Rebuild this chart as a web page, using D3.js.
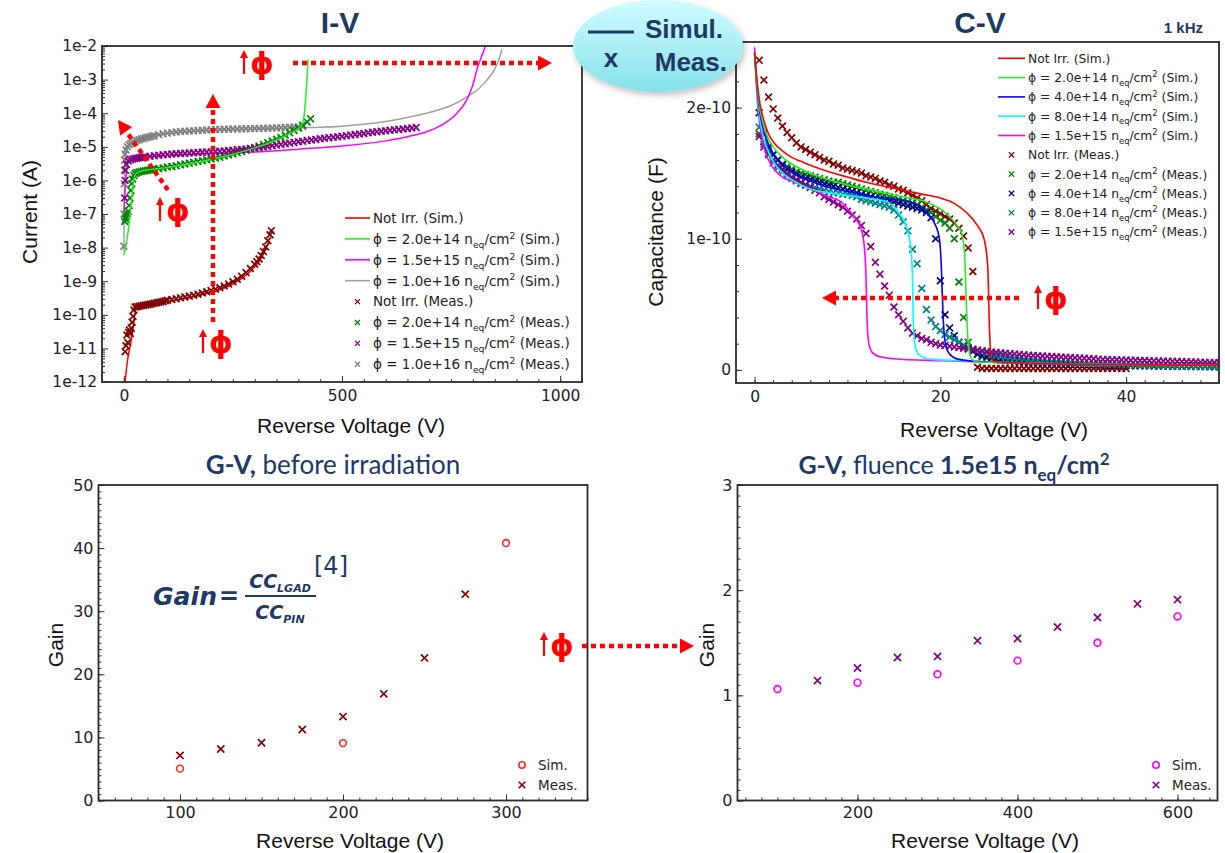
<!DOCTYPE html>
<html lang='en'>
  <head>
    <meta charset='utf-8'>
    <style type='text/css'>
      body {margin: 0; background-color: #fff;}
      svg text {font-family: 'DejaVu Sans', sans-serif;}
      .tick text {font-family: 'DejaVu Sans', sans-serif; font-size: 15.5px; fill: #222;}
      .tick line {stroke: #333; stroke-width: 1;}
      .frame {fill: none; stroke: #2b2b2b; stroke-width: 1.8;}
      .axlabel {font-family: 'Liberation Sans', Arial, sans-serif; font-size: 21px; fill: #111;}
      .title {font-family: 'Liberation Sans', Arial, sans-serif; font-weight: bold; fill: #1f3864;}
      .gtitle {font-family: Lato, 'Open Sans', sans-serif; fill: #1f3864;}
    </style>
  </head>
  <body>
    <svg id='fig' width='1225' height='853'></svg>

    <script src='https://d3js.org/d3.v7.min.js'></script>
    <script type='text/javascript'>
        /************************************
        *               DATA                *
        ************************************/

        // I-V : [reverse voltage (V), current (A)]
        var ivFluence = ['Not Irr.', '2.0e+14', '1.5e+15', '1.0e+16'];
        var ivSimColors = ['#ff0000', '#2ee82e', '#ff00ff', '#a0a0a0'];
        var ivMeasColors = ['#800000', '#008000', '#800080', '#808080'];
        var ivYTicks = [1e-12, 1e-11, 1e-10, 1e-9, 1e-8, 1e-7, 1e-6, 1e-5, 1e-4, 1e-3, 1e-2];
        var ivXTicks = [0, 500, 1000];

        var ivSimNotIrr = [[3,1e-12],[8,4e-12],[12,8e-12],[16,1.5e-11],[20,3e-11],[24,8e-11],[27,1.4e-10],[30,1.6e-10],
          [50,1.75e-10],[100,2.4e-10],[150,3.2e-10],[200,4.6e-10],[250,8.2e-10],[280,1.5e-9],[300,2.7e-9],[310,3.9e-9],
          [320,6.5e-9],[328,1.1e-8],[334,1.6e-8]];
        var ivSim2e14 = [[0,6e-9],[4,1e-8],[8,2e-8],[12,5e-8],[16,1.5e-7],[20,5e-7],[24,1.2e-6],[28,1.6e-6],[35,1.8e-6],
          [100,2.4e-6],[200,4.2e-6],[300,9.3e-6],[350,1.6e-5],[380,2.5e-5],[400,3.5e-5],[408,4.5e-5],[413,8e-5],
          [417,3e-4],[420,1.2e-3],[422,4e-3]];
        var ivSim15e15 = [[0,1e-7],[3,5e-7],[6,2e-6],[10,3.5e-6],[20,4.2e-6],[50,5e-6],[100,5.5e-6],[200,6.3e-6],
          [300,7e-6],[400,8.5e-6],[500,1.05e-5],[600,1.5e-5],[650,2e-5],[700,3e-5],[735,5e-5],[760,9e-5],[786,2.5e-4],
          [800,7e-4],[811,2.4e-3],[820,5e-3],[828,1e-2],[832,2e-2]];
        var ivSim1e16 = [[0,8e-9],[1,1e-7],[2,2e-6],[4,7e-6],[10,1.1e-5],[30,1.5e-5],[100,2.5e-5],[200,3.1e-5],
          [300,3.4e-5],[400,3.7e-5],[450,3.8e-5],[500,4.1e-5],[550,4.7e-5],[600,5.7e-5],[650,7.5e-5],[700,1.05e-4],
          [750,1.7e-4],[790,3.3e-4],[810,4.9e-4],[830,9e-4],[845,1.6e-3],[855,2.8e-3],[862,5e-3],[866,8e-3]];

        var ivMeasNotIrr = [[3,8e-12],[5,1.2e-11],[7,2.5e-11],[9,1.5e-11],[11,3e-11],[13,3.5e-11],[15,2.8e-11],[17,4e-11],
          [19,6e-11],[21,9e-11],[23,1.4e-10],[26,1.7e-10],[30,1.75e-10],[35,1.8e-10],[40,1.85e-10],[45,1.9e-10],[50,1.95e-10],
          [55,2e-10],[60,2.05e-10],[65,2.12e-10],[70,2.2e-10],[75,2.28e-10],[80,2.35e-10],[85,2.42e-10],[90,2.5e-10],
          [95,2.6e-10],[100,2.7e-10],[110,2.85e-10],[120,3.0e-10],[130,3.2e-10],
          [140,3.4e-10],[150,3.6e-10],[160,3.85e-10],[170,4.1e-10],[180,4.45e-10],[190,4.85e-10],[200,5.3e-10],
          [210,5.8e-10],[220,6.4e-10],[230,7.2e-10],[240,8.2e-10],[250,9.6e-10],[260,1.15e-9],[270,1.4e-9],[280,1.8e-9],
          [290,2.4e-9],[300,3.2e-9],[305,3.8e-9],[310,4.6e-9],[315,5.8e-9],[320,7.6e-9],[325,1.05e-8],[330,1.6e-8],
          [335,2.4e-8],[338,3.2e-8]];
        var ivMeas2e14 = [[2,6e-8],[4,7e-8],[6,8e-8],[8,1e-7],[10,1.2e-7],[12,1.8e-7],[14,3e-7],[16,5e-7],[18,8e-7],
          [20,1.1e-6],[23,1.4e-6],[26,1.6e-6],[30,1.7e-6],[35,1.78e-6],[40,1.85e-6],[45,1.9e-6],[50,1.95e-6],[55,2e-6],[60,2.05e-6],
          [65,2.1e-6],[70,2.15e-6],[80,2.25e-6],[90,2.35e-6],[100,2.5e-6],[110,2.6e-6],[120,2.75e-6],[130,2.9e-6],[140,3.1e-6],
          [150,3.25e-6],[160,3.45e-6],[170,3.65e-6],[180,3.85e-6],[190,4.1e-6],[200,4.35e-6],[210,4.6e-6],[220,4.9e-6],
          [230,5.3e-6],[240,5.7e-6],[250,6.1e-6],[260,6.6e-6],[270,7.2e-6],[280,7.9e-6],[290,8.7e-6],[300,9.6e-6],
          [310,1.06e-5],[320,1.18e-5],[330,1.32e-5],[340,1.48e-5],[350,1.67e-5],[360,1.9e-5],[370,2.2e-5],[380,2.6e-5],
          [390,3.05e-5],[400,3.6e-5],[410,4.4e-5],[420,5.5e-5],[428,6.8e-5]];
        var ivMeas15e15 = [[2,3e-7],[3,1e-6],[4,2e-6],[6,3e-6],[10,3.8e-6],[15,4.1e-6],[20,4.3e-6],[25,4.45e-6],[30,4.6e-6],
          [35,4.7e-6],[40,4.8e-6],[45,4.9e-6],
          [50,5e-6],[60,5.2e-6],[70,5.4e-6],[80,5.6e-6],[90,5.8e-6],[100,5.95e-6],[110,6.1e-6],[120,6.2e-6],[130,6.35e-6],
          [140,6.45e-6],[150,6.55e-6],[160,6.65e-6],[170,6.75e-6],[180,6.85e-6],[190,6.95e-6],[200,7.05e-6],[210,7.2e-6],
          [220,7.35e-6],[230,7.5e-6],[240,7.7e-6],[250,7.9e-6],[260,8.1e-6],[270,8.35e-6],[280,8.6e-6],[290,8.9e-6],
          [300,9.2e-6],[310,9.5e-6],[320,9.9e-6],[330,1.03e-5],[340,1.08e-5],[350,1.13e-5],[360,1.18e-5],[370,1.23e-5],
          [380,1.29e-5],[390,1.35e-5],[400,1.41e-5],[410,1.47e-5],[420,1.53e-5],[430,1.6e-5],[440,1.66e-5],[450,1.73e-5],
          [460,1.8e-5],[470,1.87e-5],[480,1.93e-5],[490,2.0e-5],[500,2.07e-5],[510,2.15e-5],[520,2.23e-5],[530,2.32e-5],
          [540,2.41e-5],[550,2.5e-5],[560,2.6e-5],[570,2.7e-5],[580,2.8e-5],[590,2.9e-5],[600,3.0e-5],[610,3.1e-5],
          [620,3.2e-5],[630,3.3e-5],[640,3.4e-5],[650,3.5e-5],[660,3.62e-5],[670,3.75e-5]];
        var ivMeas1e16 = [[0,1.1e-8],[0.5,1e-7],[1,8e-7],[1.5,2e-6],[2,4e-6],[3,6e-6],[5,8e-6],[8,1e-5],[12,1.15e-5],
          [16,1.25e-5],[20,1.35e-5],[25,1.45e-5],[30,1.55e-5],[35,1.62e-5],[40,1.7e-5],[45,1.78e-5],[50,1.85e-5],[55,1.92e-5],
          [60,2e-5],[65,2.08e-5],[70,2.15e-5],[80,2.3e-5],
          [90,2.45e-5],[100,2.55e-5],[110,2.65e-5],[120,2.75e-5],[130,2.85e-5],[140,2.9e-5],[150,2.95e-5],[160,3.0e-5],
          [170,3.05e-5],[180,3.1e-5],[190,3.15e-5],[200,3.2e-5],[210,3.25e-5],[220,3.3e-5],[230,3.32e-5],[240,3.35e-5],
          [250,3.37e-5],[260,3.4e-5],[270,3.42e-5],[280,3.45e-5],[290,3.47e-5],[300,3.5e-5],[310,3.52e-5],[320,3.55e-5],
          [330,3.58e-5],[340,3.6e-5],[350,3.65e-5],[360,3.7e-5],[370,3.75e-5],[380,3.8e-5],[390,3.85e-5],[400,3.9e-5],
          [410,4e-5]];

        // C-V : capacitance in units of 1e-10 F
        var cvFluence = ['Not Irr.', '2.0e+14', '4.0e+14', '8.0e+14', '1.5e+15'];
        var cvSimColors = ['#ff0000', '#2ee82e', '#0000ff', '#00ffff', '#ff00ff'];
        var cvMeasColors = ['#800000', '#008000', '#000080', '#008080', '#800080'];
        var cvYTicks = [0, 1, 2];
        var cvXTicks = [0, 20, 40];

        var cvSimNotIrr = [[0,2.42],[0.3,2.18],[0.6,2.02],[1,1.9],[1.5,1.8],[2,1.74],[3,1.67],[4,1.62],[5,1.59],[6,1.56],
          [8,1.51],[10,1.47],[12,1.43],[14,1.4],[16,1.37],[18,1.34],[20,1.31],[21.5,1.27],[22.8,1.2],[24,1.1],[24.7,1.0],
          [25.1,0.79],[25.3,0.29],[25.5,0.08],[26,0.06],[30,0.05],[40,0.04],[50,0.035]];
        var cvSim2e14 = [[0,2.42],[0.3,2.15],[0.6,1.98],[1,1.86],[1.5,1.76],[2,1.7],[3,1.62],[4,1.57],[5,1.53],[6,1.5],
          [8,1.45],[10,1.41],[12,1.38],[14,1.35],[16,1.32],[18.5,1.28],[20.5,1.2],[21.8,1.1],[22.3,1.04],[22.6,0.9],
          [22.8,0.5],[23,0.2],[23.4,0.08],[24,0.06],[30,0.05],[40,0.04],[50,0.035]];
        var cvSim4e14 = [[0,2.42],[0.3,2.12],[0.6,1.95],[1,1.82],[1.5,1.72],[2,1.65],[3,1.57],[4,1.51],[5,1.47],[6,1.44],
          [8,1.39],[10,1.36],[12,1.33],[14,1.31],[16.8,1.28],[18.5,1.2],[19.5,1.1],[19.9,1.0],[20.1,0.8],[20.3,0.4],
          [20.6,0.18],[21,0.12],[22,0.08],[25,0.06],[30,0.05],[40,0.04],[50,0.035]];
        var cvSim8e14 = [[0,2.42],[0.3,2.08],[0.6,1.9],[1,1.76],[1.5,1.66],[2,1.59],[3,1.5],[4,1.45],[5,1.41],[6,1.38],
          [8,1.35],[10,1.33],[12,1.31],[14.3,1.28],[15.5,1.2],[16.4,1.08],[16.8,0.95],[17,0.7],[17.1,0.35],[17.4,0.15],
          [18,0.1],[19,0.08],[22,0.07],[30,0.05],[40,0.04],[50,0.035]];
        var cvSim15e15 = [[0,2.46],[0.3,2.05],[0.6,1.85],[1,1.7],[1.5,1.6],[2,1.54],[3,1.47],[4,1.44],[5,1.41],[6,1.38],
          [7,1.35],[8,1.32],[9.1,1.29],[10,1.23],[10.9,1.15],[11.5,1.07],[11.8,0.95],[12,0.7],[12.1,0.4],[12.3,0.2],
          [12.7,0.13],[13.5,0.1],[15,0.085],[20,0.07],[25,0.06],[30,0.05],[40,0.04],[50,0.035]];

        // measured C-V sweep voltages (V)
        var cvVolt = [0.5,1,1.5,2,2.5,3,3.5,4,4.5,5,5.5,6,6.5,7,7.5,8,8.5,9,9.5,10,
          10.5,11,11.5,12,12.5,13,13.5,14,14.5,15,15.5,16,16.5,17,17.5,18,18.5,19,19.5,20,
          20.5,21,21.5,22,22.5,23,23.5,24,24.5,25,25.5,26,26.5,27,27.5,28,28.5,29,29.5,30,
          30.5,31,31.5,32,32.5,33,33.5,34,34.5,35,35.5,36,36.5,37,37.5,38,38.5,39,39.5,40,
          40.5,41,41.5,42,42.5,43,43.5,44,44.5,45,45.5,46,46.5,47,47.5,48,48.5,49,49.5,50];
        var cvMeasNotIrr = [2.36,2.21,2.08,1.99,1.92,1.86,1.81,1.77,1.73,1.70,1.68,1.66,1.64,1.62,1.60,1.59,1.57,1.56,1.54,1.53,
          1.52,1.51,1.50,1.48,1.47,1.46,1.44,1.43,1.41,1.40,1.38,1.37,1.35,1.33,1.31,1.29,1.26,1.23,1.21,1.19,
          1.17,1.15,1.12,1.08,1.02,0.93,0.75,0.02,0.01,0.01,0.01,0.01,0.01,0.01,0.01,0.01,0.01,0.01,0.01,0.01,
          0.01,0.01,0.01,0.01,0.01,0.01,0.01,0.01,0.01,0.01,0.01,0.01,0.01,0.01,0.01,0.01,0.01,0.01,0.01,0.01];
        var cvMeas2e14 = [1.80,1.74,1.68,1.64,1.60,1.57,1.55,1.53,1.51,1.50,1.49,1.48,1.47,1.46,1.45,1.44,1.43,1.43,1.42,1.41,
          1.40,1.39,1.38,1.37,1.36,1.35,1.34,1.33,1.32,1.31,1.30,1.29,1.28,1.27,1.26,1.24,1.22,1.20,1.17,1.14,
          1.12,1.08,1.00,0.67,0.40,0.21,0.15,0.12,0.10,0.09,0.085,0.08,0.075,0.07,0.068,0.065,0.062,0.06,0.058,0.056,
          0.054,0.053,0.052,0.051,0.05,0.049,0.048,0.047,0.046,0.045,0.044,0.043,0.042,0.041,0.04,0.039,0.038,0.037,0.036,0.035,
          0.035,0.034,0.034,0.033,0.033,0.032,0.032,0.031,0.031,0.03,0.03,0.029,0.029,0.028,0.028,0.027,0.027,0.026,0.026,0.025];
        var cvMeas4e14 = [1.96,1.80,1.70,1.64,1.60,1.56,1.53,1.51,1.49,1.47,1.46,1.45,1.44,1.43,1.42,1.41,1.40,1.39,1.38,1.37,
          1.36,1.35,1.34,1.33,1.32,1.31,1.30,1.29,1.29,1.28,1.27,1.26,1.25,1.24,1.23,1.22,1.20,1.16,1.00,0.68,
          0.42,0.32,0.26,0.21,0.18,0.16,0.14,0.12,0.11,0.10,0.09,0.085,0.08,0.075,0.07,0.067,0.064,0.061,0.058,0.056,
          0.054,0.052,0.05,0.049,0.048,0.047,0.046,0.045,0.044,0.043,0.042,0.041,0.04,0.039,0.038,0.037,0.036,0.035,0.034,0.033,
          0.033,0.032,0.032,0.031,0.031,0.03,0.03,0.029,0.029,0.028,0.028,0.027,0.027,0.026,0.026,0.025,0.025,0.024,0.024,0.023];
        var cvMeas8e14 = [1.85,1.72,1.64,1.58,1.54,1.51,1.48,1.46,1.44,1.42,1.41,1.40,1.39,1.38,1.37,1.36,1.35,1.35,1.34,1.34,
          1.33,1.32,1.30,1.29,1.28,1.27,1.26,1.25,1.24,1.22,1.18,1.13,1.06,0.92,0.81,0.62,0.46,0.38,0.33,0.30,
          0.27,0.25,0.23,0.21,0.19,0.17,0.16,0.15,0.14,0.13,0.12,0.11,0.105,0.1,0.095,0.09,0.086,0.082,0.078,0.075,
          0.072,0.069,0.066,0.064,0.062,0.06,0.058,0.056,0.054,0.052,0.05,0.049,0.048,0.047,0.046,0.045,0.044,0.043,0.042,0.041,
          0.04,0.039,0.038,0.037,0.036,0.035,0.034,0.033,0.032,0.031,0.03,0.03,0.029,0.029,0.028,0.028,0.027,0.027,0.026,0.026];
        var cvMeas15e15 = [1.78,1.70,1.65,1.60,1.56,1.53,1.50,1.47,1.45,1.43,1.41,1.39,1.37,1.35,1.32,1.30,1.28,1.26,1.24,1.21,
          1.18,1.15,1.10,1.04,0.94,0.82,0.73,0.64,0.57,0.48,0.42,0.37,0.32,0.28,0.26,0.24,0.23,0.21,0.20,0.19,
          0.185,0.18,0.175,0.17,0.165,0.16,0.155,0.15,0.145,0.14,0.137,0.134,0.13,0.127,0.124,0.121,0.118,0.115,0.112,0.11,
          0.108,0.106,0.104,0.102,0.1,0.098,0.096,0.094,0.092,0.09,0.088,0.086,0.084,0.082,0.08,0.079,0.078,0.077,0.076,0.075,
          0.074,0.073,0.072,0.071,0.07,0.069,0.068,0.067,0.066,0.065,0.064,0.063,0.062,0.061,0.06,0.059,0.058,0.057,0.056,0.055];

        // G-V before irradiation
        var gvBeforeSimV = [100, 200, 300];
        var gvBeforeSim = [5.05, 9.1, 40.8];
        var gvBeforeMeasV = [100, 125, 150, 175, 200, 225, 250, 275];
        var gvBeforeMeas = [7.15, 8.15, 9.15, 11.25, 13.3, 16.9, 22.6, 32.7];
        var gvBeforeXTicks = [100, 200, 300];
        var gvBeforeYTicks = [0, 10, 20, 30, 40, 50];

        // G-V at 1.5e15 neq/cm2
        var gvAfterSimV = [100, 200, 300, 400, 500, 600];
        var gvAfterSim = [1.06, 1.12, 1.20, 1.33, 1.50, 1.75];
        var gvAfterMeasV = [150, 200, 250, 300, 350, 400, 450, 500, 550, 600];
        var gvAfterMeas = [1.14, 1.26, 1.36, 1.37, 1.52, 1.54, 1.65, 1.74, 1.87, 1.91];
        var gvAfterXTicks = [200, 400, 600];
        var gvAfterYTicks = [0, 1, 2, 3];

        /************************************
        *              DRAWING              *
        ************************************/

        var svg = d3.select('#fig');
        var defs = svg.append('defs');
        var navy = '#1f3864';

        var ivX = d3.scaleLinear().domain([-50, 1050]).range([102, 582]);
        var ivY = d3.scaleLog().domain([1e-12, 1e-2]).range([382, 46]);
        var cvX = d3.scaleLinear().domain([-2, 50]).range([736, 1219]);
        var cvY = d3.scaleLinear().domain([-0.1, 2.5]).range([383, 42]);
        var glX = d3.scaleLinear().domain([50, 350]).range([98.5, 587.5]);
        var glY = d3.scaleLinear().domain([0, 50]).range([800.5, 485]);
        var grX = d3.scaleLinear().domain([50, 650]).range([737.5, 1217.5]);
        var grY = d3.scaleLinear().domain([0, 3]).range([800.5, 485]);

        // axes, ticks pointing inwards, and a frame; returns a clipped group for the marks
        function panel(id, x, y, o) {
          var g = svg.append('g');
          var xr = x.range(), yr = y.range();
          defs.append('clipPath').attr('id', id).append('rect')
            .attr('x', xr[0]).attr('y', yr[1]).attr('width', xr[1] - xr[0]).attr('height', yr[0] - yr[1]);
          g.append('g').attr('transform', 'translate(0,' + yr[0] + ')')
            .call(d3.axisBottom(x).tickValues(o.xMinor).tickSize(-3).tickFormat(''));
          g.append('g').attr('transform', 'translate(0,' + yr[0] + ')')
            .call(d3.axisBottom(x).tickValues(o.xMajor).tickSize(-6).tickPadding(o.xPad).tickFormat(d3.format('d')));
          g.append('g').attr('transform', 'translate(' + xr[0] + ',0)')
            .call(d3.axisLeft(y).tickValues(o.yMinor).tickSize(-3).tickFormat(''));
          g.append('g').attr('transform', 'translate(' + xr[0] + ',0)')
            .call(d3.axisLeft(y).tickValues(o.yMajor).tickSize(-6).tickPadding(o.yPad).tickFormat(o.yFmt));
          g.selectAll('.domain').remove();
          if (o.fontSize) g.selectAll('.tick text').style('font-size', o.fontSize);
          var plot = g.append('g').attr('clip-path', 'url(#' + id + ')');
          g.append('rect').attr('class', 'frame')
            .attr('x', xr[0]).attr('y', yr[1]).attr('width', xr[1] - xr[0]).attr('height', yr[0] - yr[1]);
          return plot;
        }

        function crosses(sel, pts, x, y, r, color, sw) {
          sel.append('g').selectAll('path').data(pts).join('path')
            .attr('d', function(d) {
              var px = x(d[0]), py = y(d[1]);
              return 'M' + (px - r) + ',' + (py - r) + 'L' + (px + r) + ',' + (py + r) +
                     'M' + (px - r) + ',' + (py + r) + 'L' + (px + r) + ',' + (py - r);
            })
            .attr('fill', 'none').attr('stroke', color).attr('stroke-width', sw);
        }

        function circles(sel, pts, x, y, r, color, sw) {
          sel.append('g').selectAll('circle').data(pts).join('circle')
            .attr('cx', function(d) { return x(d[0]); })
            .attr('cy', function(d) { return y(d[1]); })
            .attr('r', r).attr('fill', 'none').attr('stroke', color).attr('stroke-width', sw);
        }

        // legend label: "phi = 2.0e+14 n_eq/cm^2 (Sim.)"
        function fluenceLabel(t, fl, tag, fs) {
          if (fl === 'Not Irr.') { t.text('Not Irr. (' + tag + ')'); return; }
          t.append('tspan').text('\u03d5 = ' + fl + ' n');
          t.append('tspan').attr('dy', 0.3 * fs).attr('font-size', 0.68 * fs).text('eq');
          t.append('tspan').attr('dy', -0.3 * fs).text('/cm');
          t.append('tspan').attr('dy', -0.38 * fs).attr('font-size', 0.68 * fs).text('2');
          t.append('tspan').attr('dy', 0.38 * fs).text(' (' + tag + ')');
        }

        function legend(rows, x0, y0, dy, fs, lineLen, markR) {
          var g = svg.append('g');
          rows.forEach(function(r, i) {
            var yy = y0 + i * dy;
            if (r.sim) {
              g.append('line').attr('x1', x0).attr('x2', x0 + lineLen).attr('y1', yy).attr('y2', yy)
                .attr('stroke', r.color).attr('stroke-width', 1.6);
            } else {
              crosses(g, [[x0 + lineLen / 2, yy]], function(v) { return v; }, function(v) { return v; }, markR, r.color, 1.3);
            }
            var t = g.append('text').attr('x', x0 + lineLen + 3).attr('y', yy).attr('dy', '0.36em')
              .attr('font-size', fs).attr('fill', '#222');
            fluenceLabel(t, r.fl, r.sim ? 'Sim.' : 'Meas.', fs);
          });
        }

        /* ---------- I-V ---------- */
        var ivMinorY = d3.range(-12, -2).flatMap(function(e) {
          return d3.range(2, 10).map(function(k) { return k * Math.pow(10, e); });
        });
        var ivPlot = panel('clipIV', ivX, ivY, {
          xMajor: ivXTicks, xMinor: d3.range(-50, 1051, 50), xPad: 8,
          yMajor: ivYTicks, yMinor: ivMinorY, yPad: 5,
          yFmt: function(d) { return '1e' + Math.round(Math.log10(d)); }
        });
        var ivLine = d3.line().x(function(d) { return ivX(d[0]); }).y(function(d) { return ivY(d[1]); })
          .curve(d3.curveMonotoneX);
        var ivSims = [ivSimNotIrr, ivSim2e14, ivSim15e15, ivSim1e16];
        var ivMeas = [ivMeasNotIrr, ivMeas2e14, ivMeas15e15, ivMeas1e16];
        [3, 2, 0].forEach(function(i) {
          ivPlot.append('path').attr('d', ivLine(ivSims[i])).attr('fill', 'none')
            .attr('stroke', ivSimColors[i]).attr('stroke-width', 1.5);
        });
        [3, 1, 2, 0].forEach(function(i) {
          crosses(ivPlot, ivMeas[i], ivX, ivY, 3.4, ivMeasColors[i], 1.7);
        });
        ivPlot.append('path').attr('d', ivLine(ivSims[1])).attr('fill', 'none')
          .attr('stroke', ivSimColors[1]).attr('stroke-width', 1.5);

        legend(ivFluence.map(function(f, i) { return {fl: f, sim: true, color: ivSimColors[i]}; })
          .concat(ivFluence.map(function(f, i) { return {fl: f, sim: false, color: ivMeasColors[i]}; })),
          345, 218, 20.9, 13.5, 25, 2.5);

        /* ---------- C-V ---------- */
        var cvPlot = panel('clipCV', cvX, cvY, {
          xMajor: cvXTicks, xMinor: d3.range(-2, 51, 2), xPad: 8,
          yMajor: cvYTicks, yMinor: d3.range(0, 2.5, 0.2), yPad: 5,
          yFmt: function(d) { return d === 0 ? '0' : d + 'e-10'; }
        });
        var cvLine = d3.line().x(function(d) { return cvX(d[0]); }).y(function(d) { return cvY(d[1]); })
          .curve(d3.curveMonotoneX);
        var cvMeas = [cvMeasNotIrr, cvMeas2e14, cvMeas4e14, cvMeas8e14, cvMeas15e15];
        var cvSims = [cvSimNotIrr, cvSim2e14, cvSim4e14, cvSim8e14, cvSim15e15];
        [0, 1, 2, 3, 4].forEach(function(i) {
          crosses(cvPlot, d3.zip(cvVolt, cvMeas[i]), cvX, cvY, 3.4, cvMeasColors[i], 1.7);
        });
        [4, 3, 2, 1, 0].forEach(function(i) {
          cvPlot.append('path').attr('d', cvLine(cvSims[i])).attr('fill', 'none')
            .attr('stroke', cvSimColors[i]).attr('stroke-width', 1.6);
        });

        legend(cvFluence.map(function(f, i) { return {fl: f, sim: true, color: cvSimColors[i]}; })
          .concat(cvFluence.map(function(f, i) { return {fl: f, sim: false, color: cvMeasColors[i]}; })),
          998, 58.3, 19.3, 12.3, 27, 2.7);

        /* ---------- G-V before irradiation ---------- */
        var glPlot = panel('clipGL', glX, glY, {
          xMajor: gvBeforeXTicks, xMinor: d3.range(50, 351, 10), xPad: 6,
          yMajor: gvBeforeYTicks, yMinor: d3.range(0, 51, 1), yPad: 5,
          yFmt: d3.format('d'), fontSize: '16px'
        });
        circles(glPlot, d3.zip(gvBeforeSimV, gvBeforeSim), glX, glY, 3.4, '#ff2a2a', 1.6);
        crosses(glPlot, d3.zip(gvBeforeMeasV, gvBeforeMeas), glX, glY, 3.6, '#800000', 1.7);

        /* ---------- G-V after 1.5e15 ---------- */
        var grPlot = panel('clipGR', grX, grY, {
          xMajor: gvAfterXTicks, xMinor: d3.range(60, 651, 20), xPad: 6,
          yMajor: gvAfterYTicks, yMinor: d3.range(0, 3.01, 0.1), yPad: 5,
          yFmt: d3.format('d'), fontSize: '16px'
        });
        circles(grPlot, d3.zip(gvAfterSimV, gvAfterSim), grX, grY, 3.4, '#ff00ff', 1.6);
        crosses(grPlot, d3.zip(gvAfterMeasV, gvAfterMeas), grX, grY, 3.6, '#800080', 1.7);

        [[522, '#ff2a2a', '#800000'], [1156, '#ff00ff', '#800080']].forEach(function(l) {
          var g = svg.append('g');
          g.append('circle').attr('cx', l[0]).attr('cy', 765).attr('r', 3.2)
            .attr('fill', 'none').attr('stroke', l[1]).attr('stroke-width', 1.6);
          crosses(g, [[l[0], 785]], function(v) { return v; }, function(v) { return v; }, 3.3, l[2], 1.6);
          g.append('text').attr('x', l[0] + 16).attr('y', 765).attr('dy', '0.36em').attr('font-size', 13.5)
            .attr('fill', '#222').text('Sim.');
          g.append('text').attr('x', l[0] + 16).attr('y', 785).attr('dy', '0.36em').attr('font-size', 13.5)
            .attr('fill', '#222').text('Meas.');
        });

        /* ---------- titles and axis labels ---------- */
        svg.append('text').attr('class', 'title').attr('x', 340).attr('y', 33).attr('font-size', 30)
          .attr('text-anchor', 'middle').text('I-V');
        svg.append('text').attr('class', 'title').attr('x', 980).attr('y', 33).attr('font-size', 30)
          .attr('text-anchor', 'middle').text('C-V');
        svg.append('text').attr('class', 'title').attr('x', 1203).attr('y', 33).attr('font-size', 15)
          .attr('text-anchor', 'end').text('1 kHz');

        var t1 = svg.append('text').attr('class', 'gtitle').attr('x', 333).attr('y', 474)
          .attr('font-size', 26).attr('text-anchor', 'middle');
        t1.append('tspan').attr('font-weight', 'bold').text('G-V,');
        t1.append('tspan').text(' before irradiation');

        var t2 = svg.append('text').attr('class', 'gtitle').attr('x', 954).attr('y', 474)
          .attr('font-size', 25).attr('text-anchor', 'middle');
        t2.append('tspan').attr('font-weight', 'bold').text('G-V,');
        t2.append('tspan').text(' fluence ');
        t2.append('tspan').attr('font-weight', 'bold').text('1.5e15 n');
        t2.append('tspan').attr('font-weight', 'bold').attr('font-size', 17).attr('dy', 7).text('eq');
        t2.append('tspan').attr('font-weight', 'bold').attr('dy', -7).text('/cm');
        t2.append('tspan').attr('font-weight', 'bold').attr('font-size', 17).attr('dy', -9).text('2');

        function axLabel(x, y, txt, rot) {
          svg.append('text').attr('class', 'axlabel')
            .attr('transform', 'translate(' + x + ',' + y + ')' + (rot ? ' rotate(-90)' : ''))
            .attr('text-anchor', 'middle').attr('dy', rot ? '0.35em' : 0).text(txt);
        }
        axLabel(351, 433, 'Reverse Voltage (V)');
        axLabel(994, 437, 'Reverse Voltage (V)');
        axLabel(350, 848, 'Reverse Voltage (V)');
        axLabel(985, 848, 'Reverse Voltage (V)');
        axLabel(30, 212, 'Current (A)', true);
        axLabel(656, 232, 'Capacitance (F)', true);
        axLabel(56, 645, 'Gain', true);
        axLabel(707, 645, 'Gain', true);

        /* ---------- gain formula ---------- */
        var fserif = "'DejaVu Serif', serif";
        svg.append('text').attr('x', 153).attr('y', 605).attr('font-family', fserif).attr('font-weight', 'bold')
          .attr('font-style', 'italic').attr('font-size', 25).attr('fill', navy)
          .attr('textLength', 64).attr('lengthAdjust', 'spacingAndGlyphs').text('Gain');
        svg.append('text').attr('x', 229).attr('y', 604).attr('text-anchor', 'middle').attr('font-family', fserif)
          .attr('font-weight', 'bold').attr('font-size', 24).attr('fill', navy).text('=');
        svg.append('line').attr('x1', 245).attr('x2', 316).attr('y1', 596).attr('y2', 596)
          .attr('stroke', navy).attr('stroke-width', 2);
        [[588, 'LGAD'], [619, 'PIN']].forEach(function(p) {
          var t = svg.append('text').attr('x', 280).attr('y', p[0]).attr('text-anchor', 'middle')
            .attr('font-family', fserif).attr('font-weight', 'bold').attr('font-style', 'italic')
            .attr('font-size', 19).attr('fill', navy);
          t.append('tspan').text('CC');
          t.append('tspan').attr('font-size', 11).attr('dy', 4).text(p[1]);
        });
        svg.append('text').attr('x', 314).attr('y', 574).attr('font-family', "Lato, sans-serif")
          .attr('font-size', 24).attr('fill', navy).text('[4]');

        /* ---------- red fluence arrows ---------- */
        function dottedArrow(x1, y1, x2, y2) {
          var a = Math.atan2(y2 - y1, x2 - x1), hl = 14, hw = 7.5;
          var bx = x2 - hl * Math.cos(a), by = y2 - hl * Math.sin(a);
          svg.append('line').attr('x1', x1).attr('y1', y1).attr('x2', bx).attr('y2', by)
            .attr('stroke', '#ff0000').attr('stroke-width', 4.5).attr('stroke-dasharray', '5,4');
          svg.append('path').attr('fill', '#ff0000')
            .attr('d', 'M' + x2 + ',' + y2 +
                       'L' + (bx + hw * Math.sin(a)) + ',' + (by - hw * Math.cos(a)) +
                       'L' + (bx - hw * Math.sin(a)) + ',' + (by + hw * Math.cos(a)) + 'Z');
        }
        function phiMark(x, y) {
          svg.append('line').attr('x1', x).attr('x2', x).attr('y1', y + 11).attr('y2', y - 6)
            .attr('stroke', '#ff0000').attr('stroke-width', 2.2);
          svg.append('path').attr('fill', '#ff0000')
            .attr('d', 'M' + x + ',' + (y - 13) + 'L' + (x - 4) + ',' + (y - 5) + 'L' + (x + 4) + ',' + (y - 5) + 'Z');
          svg.append('text').attr('x', x + 6).attr('y', y).attr('dy', '0.36em').attr('font-size', 30)
            .attr('font-family', "'Liberation Sans', 'DejaVu Sans', sans-serif")
            .attr('font-weight', 'bold').attr('fill', '#ff0000').text('\u03d5');
        }
        dottedArrow(293, 63, 552, 63);
        dottedArrow(213, 322, 213, 94);
        dottedArrow(168, 190, 118, 120);
        dottedArrow(1019, 298, 822, 298);
        dottedArrow(582, 646, 694, 646);
        phiMark(244, 63);
        phiMark(160, 210);
        phiMark(203, 342);
        phiMark(1038, 298);
        phiMark(544, 645);

        /* ---------- Simul. / Meas. bubble ---------- */
        var grad = defs.append('linearGradient').attr('id', 'bub').attr('x1', 0).attr('y1', 0).attr('x2', 0).attr('y2', 1);
        grad.append('stop').attr('offset', '0%').attr('stop-color', '#cffcff');
        grad.append('stop').attr('offset', '100%').attr('stop-color', '#86e2ea');
        var filt = defs.append('filter').attr('id', 'shadow').attr('x', '-20%').attr('y', '-20%')
          .attr('width', '140%').attr('height', '150%');
        filt.append('feDropShadow').attr('dx', 2).attr('dy', 3).attr('stdDeviation', 3)
          .attr('flood-color', '#000').attr('flood-opacity', 0.25);
        svg.append('ellipse').attr('cx', 658).attr('cy', 46).attr('rx', 85).attr('ry', 46)
          .attr('fill', 'url(#bub)').attr('filter', 'url(#shadow)');
        svg.append('line').attr('x1', 588).attr('x2', 634).attr('y1', 32).attr('y2', 32)
          .attr('stroke', navy).attr('stroke-width', 3);
        svg.append('text').attr('class', 'title').attr('x', 723).attr('y', 38).attr('font-size', 26)
          .attr('text-anchor', 'end').text('Simul.');
        svg.append('text').attr('class', 'title').attr('x', 727).attr('y', 71).attr('font-size', 26)
          .attr('text-anchor', 'end').text('Meas.');
        svg.append('text').attr('class', 'title').attr('x', 611).attr('y', 67).attr('font-size', 26)
          .attr('text-anchor', 'middle').text('x');
    </script>
  </body>
</html>
